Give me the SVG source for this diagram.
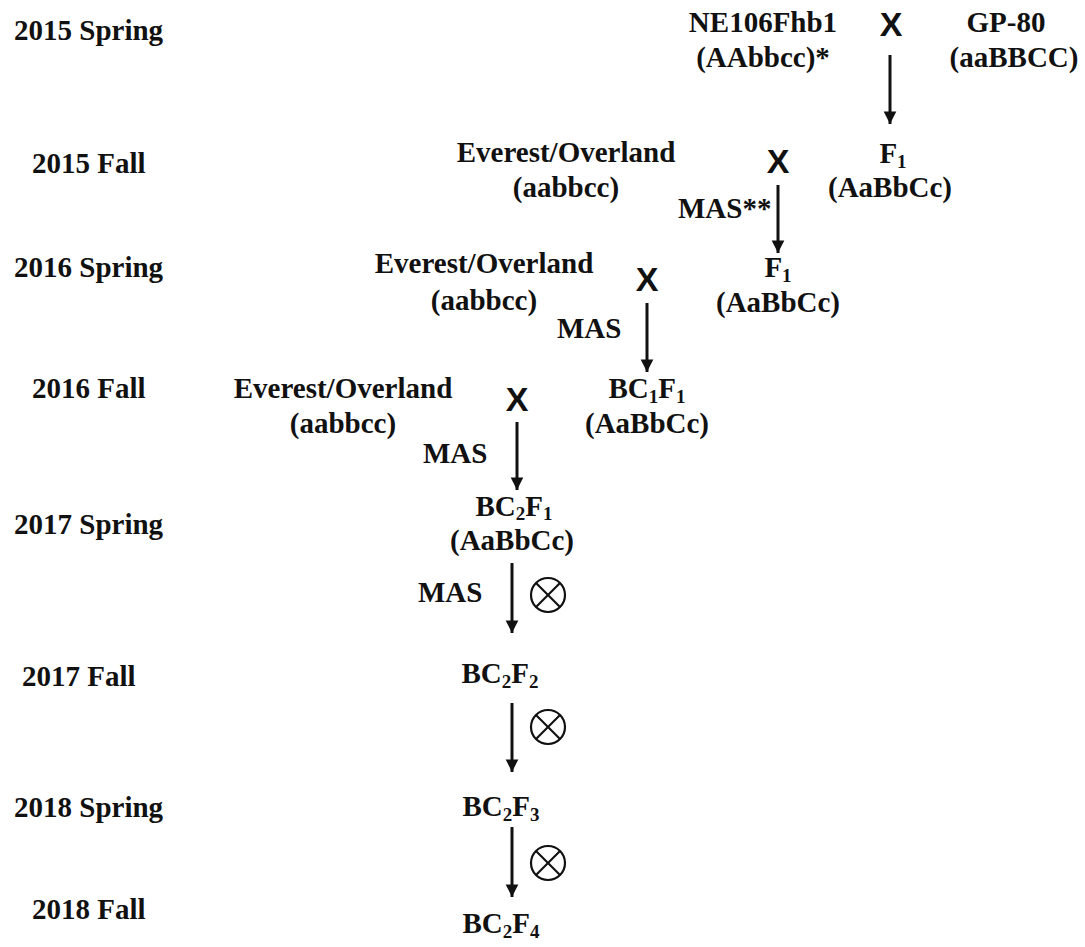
<svg xmlns="http://www.w3.org/2000/svg" width="1085" height="947" viewBox="0 0 1085 947">
<style>
text{font-family:"Liberation Serif","Times New Roman",serif;font-weight:bold;font-size:29px;fill:#111}
.m{text-anchor:middle}
.x{font-family:"Liberation Sans",Arial,sans-serif;font-size:34px;text-anchor:middle}
.sub{font-size:19px}
.edge{stroke:#111;stroke-width:3;fill:none}
.self circle{fill:none;stroke:#111;stroke-width:2.2}
.self line{stroke:#111;stroke-width:2.2}
</style>
<defs>
<marker id="ah" viewBox="0 0 10 10" refX="10" refY="5" markerWidth="4.2" markerHeight="4.5" markerUnits="strokeWidth" orient="auto">
<path d="M0,0 L10,5 L0,10 z" fill="#111"/>
</marker>
<g id="selfing" class="self">
<circle cx="0" cy="0" r="17"/>
<line x1="-12" y1="-12" x2="12" y2="12"/>
<line x1="-12" y1="12" x2="12" y2="-12"/>
</g>
</defs>
<rect width="1085" height="947" fill="#fff"/>

<g id="seasons">
<text x="14" y="40">2015 Spring</text>
<text x="32" y="173">2015 Fall</text>
<text x="14" y="277">2016 Spring</text>
<text x="32" y="398">2016 Fall</text>
<text x="14" y="534">2017 Spring</text>
<text x="22" y="686">2017 Fall</text>
<text x="14" y="817">2018 Spring</text>
<text x="32" y="919">2018 Fall</text>
</g>

<g id="ne106fhb1">
<text class="m" x="763" y="32">NE106Fhb1</text>
<text class="m" x="763" y="67">(AAbbcc)*</text>
</g>
<g id="gp80">
<text class="m" x="1006" y="32">GP-80</text>
<text class="m" x="1014" y="67">(aaBBCC)</text>
</g>
<g id="cross1"><text class="x" x="891" y="36">X</text></g>

<g id="f1-2015fall">
<text class="m" x="893" y="163">F<tspan class="sub" dy="5">1</tspan></text>
<text class="m" x="890" y="197">(AaBbCc)</text>
</g>
<g id="eo1">
<text class="m" x="566" y="162">Everest/Overland</text>
<text class="m" x="566" y="197">(aabbcc)</text>
</g>
<g id="cross2"><text class="x" x="778" y="173">X</text></g>

<g id="f1-2016spring">
<text class="m" x="778" y="277">F<tspan class="sub" dy="5">1</tspan></text>
<text class="m" x="778" y="312">(AaBbCc)</text>
</g>
<g id="eo2">
<text class="m" x="484" y="273">Everest/Overland</text>
<text class="m" x="484" y="310">(aabbcc)</text>
</g>
<g id="cross3"><text class="x" x="647" y="291">X</text></g>

<g id="bc1f1">
<text class="m" x="647" y="398">BC<tspan class="sub" dy="5">1</tspan><tspan dy="-5">F</tspan><tspan class="sub" dy="5">1</tspan></text>
<text class="m" x="647" y="433">(AaBbCc)</text>
</g>
<g id="eo3">
<text class="m" x="343" y="398">Everest/Overland</text>
<text class="m" x="343" y="433">(aabbcc)</text>
</g>
<g id="cross4"><text class="x" x="517" y="411">X</text></g>

<g id="bc2f1">
<text class="m" x="514" y="516">BC<tspan class="sub" dy="4">2</tspan><tspan dy="-4">F</tspan><tspan class="sub" dy="4">1</tspan></text>
<text class="m" x="512" y="550">(AaBbCc)</text>
</g>
<g id="bc2f2">
<text class="m" x="500" y="683">BC<tspan class="sub" dy="5">2</tspan><tspan dy="-5">F</tspan><tspan class="sub" dy="5">2</tspan></text>
</g>
<g id="bc2f3">
<text class="m" x="501" y="816">BC<tspan class="sub" dy="5">2</tspan><tspan dy="-5">F</tspan><tspan class="sub" dy="5">3</tspan></text>
</g>
<g id="bc2f4">
<text class="m" x="501" y="933">BC<tspan class="sub" dy="5">2</tspan><tspan dy="-5">F</tspan><tspan class="sub" dy="5">4</tspan></text>
</g>

<g id="connectors">
<line class="edge" x1="890" y1="55" x2="890" y2="124" marker-end="url(#ah)"/>
<line class="edge" x1="778" y1="185" x2="778" y2="253" marker-end="url(#ah)"/>
<line class="edge" x1="647" y1="303" x2="647" y2="372" marker-end="url(#ah)"/>
<line class="edge" x1="517" y1="422" x2="517" y2="490" marker-end="url(#ah)"/>
<line class="edge" x1="512" y1="563" x2="512" y2="633" marker-end="url(#ah)"/>
<line class="edge" x1="512" y1="703" x2="512" y2="772" marker-end="url(#ah)"/>
<line class="edge" x1="512" y1="827" x2="512" y2="897" marker-end="url(#ah)"/>
<text x="678" y="218">MAS**</text>
<text x="557" y="338">MAS</text>
<text x="423" y="463">MAS</text>
<text x="418" y="602">MAS</text>
<use href="#selfing" x="548" y="595"/>
<use href="#selfing" x="548" y="727"/>
<use href="#selfing" x="548" y="863"/>
</g>
</svg>
